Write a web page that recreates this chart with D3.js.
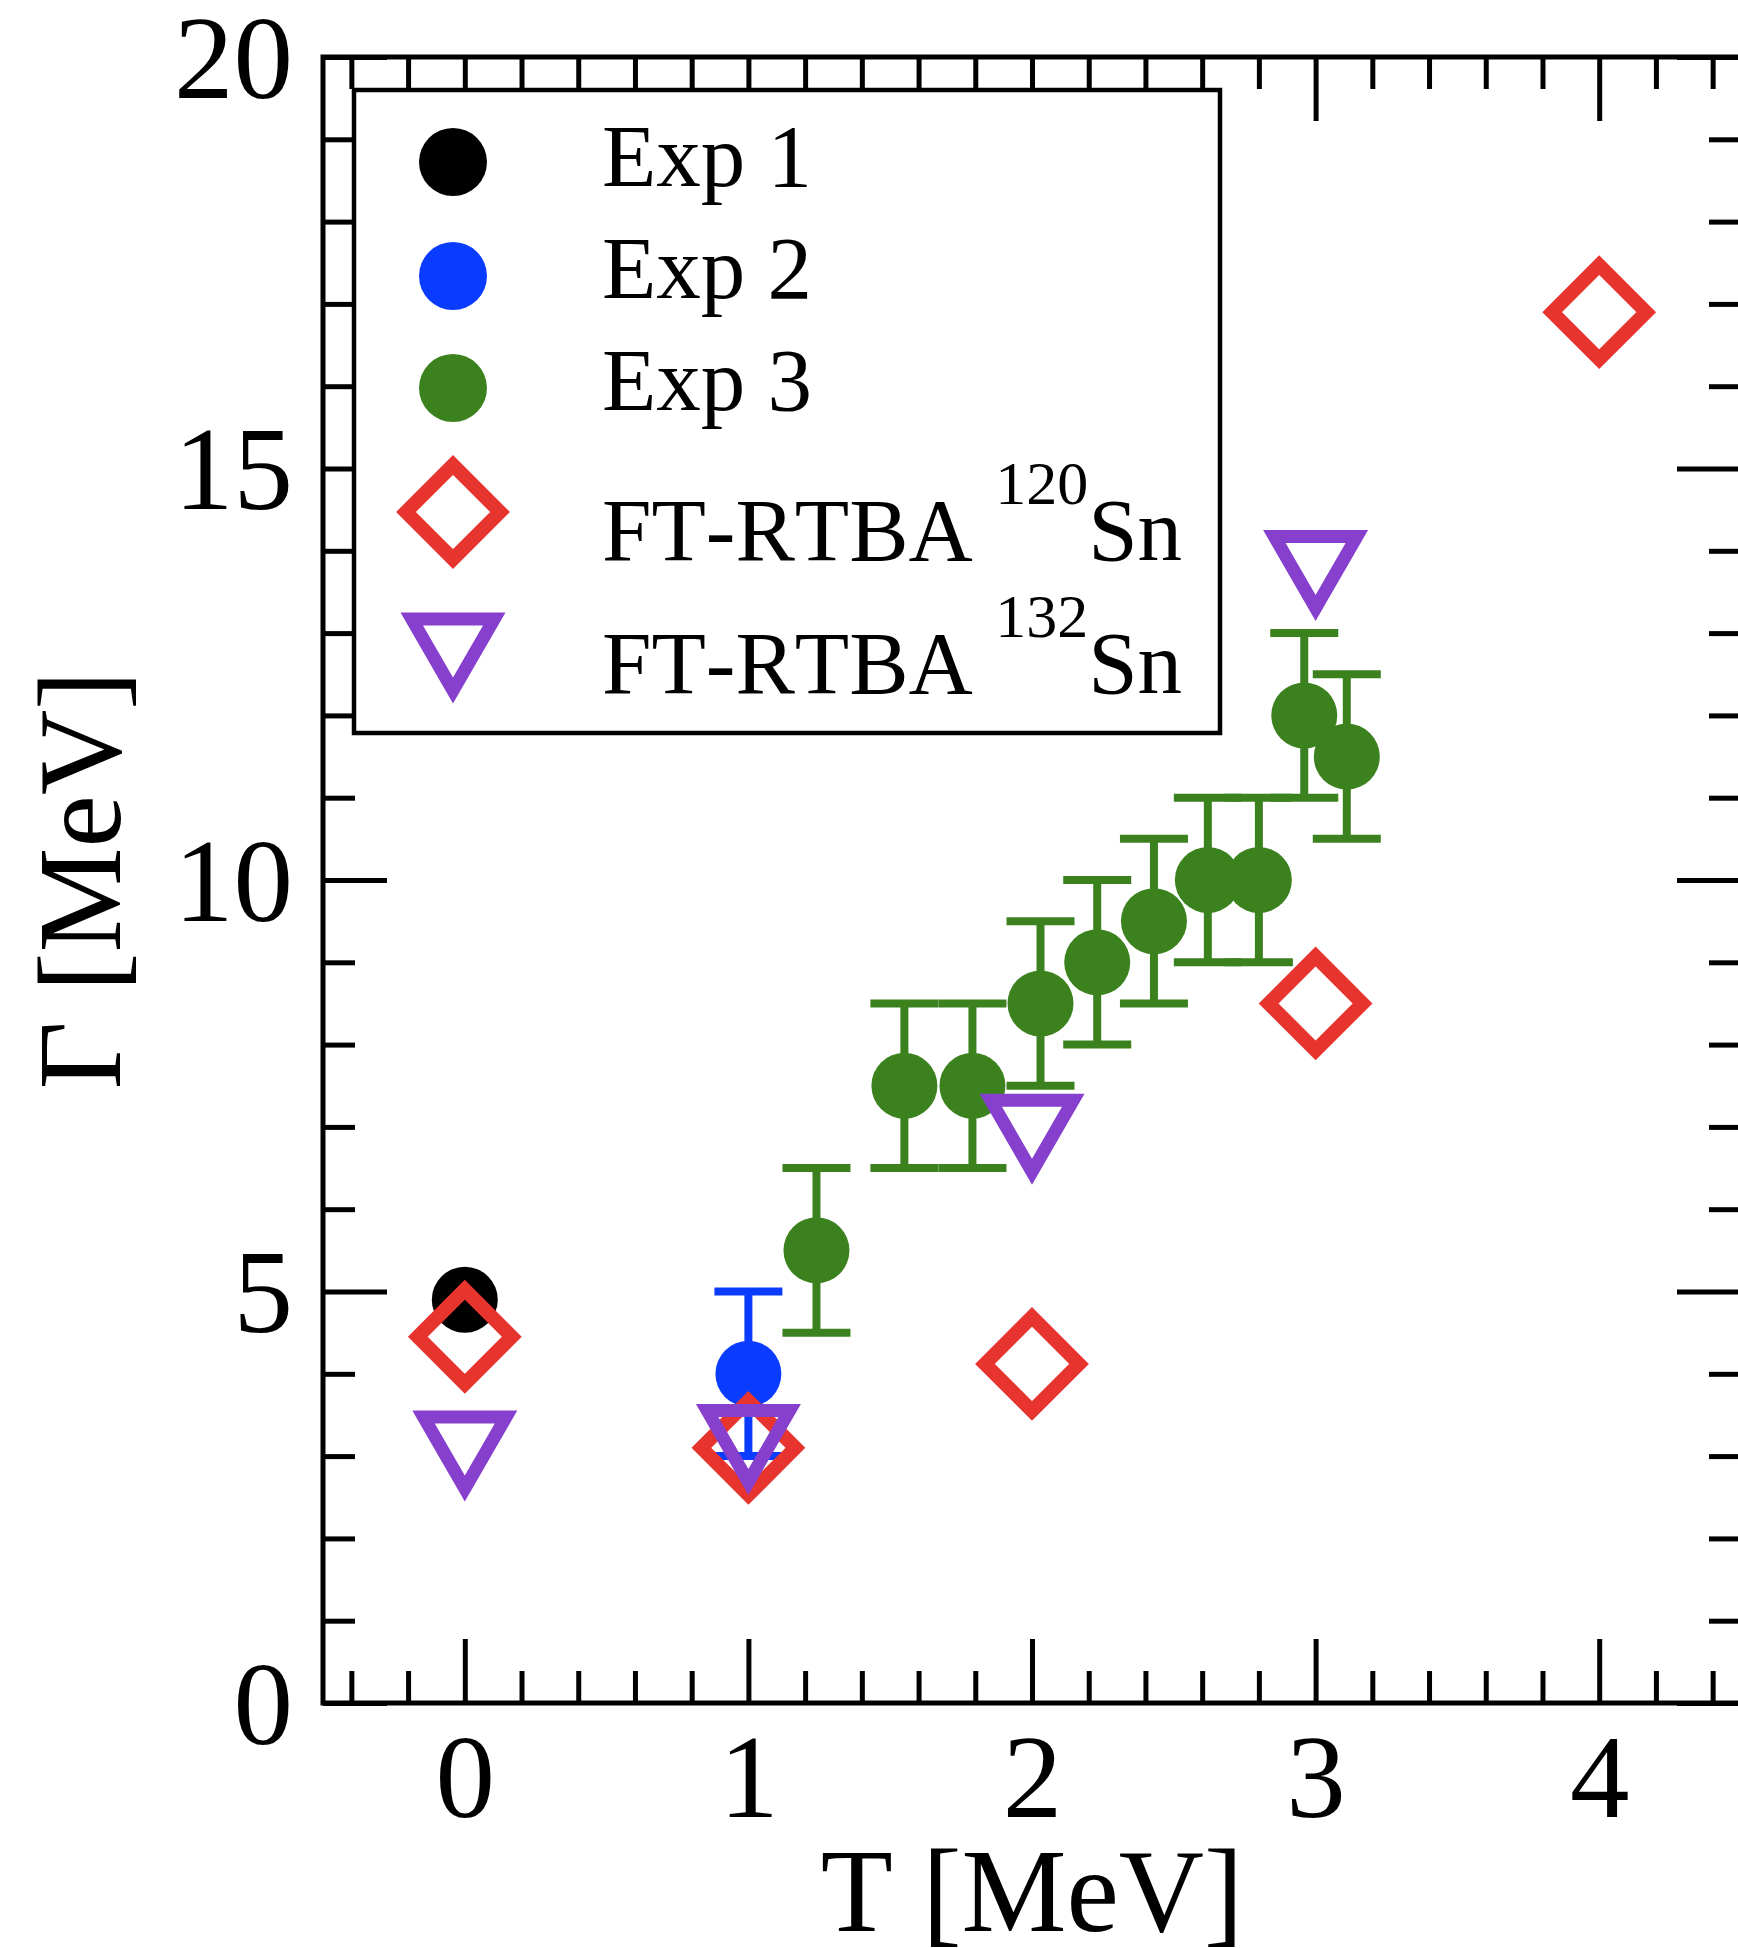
<!DOCTYPE html>
<html>
<head>
<meta charset="utf-8">
<script src="https://cdn.jsdelivr.net/npm/d3@7"></script>
<style>
  html, body { margin: 0; padding: 0; background: #fff; }
  svg { display: block; }
  svg text { font-kerning: none; font-feature-settings: "kern" 0; }
</style>
</head>
<body>
<script>
// ---------------- data ----------------
const exp1T = [0];
const exp1G = [4.9];

const exp2T = [1];
const exp2G = [4.0];
const exp2Err = [1.0];

const exp3T = [1.24, 1.55, 1.79, 2.03, 2.23, 2.43, 2.62, 2.80, 2.96, 3.11];
const exp3G = [5.5, 7.5, 7.5, 8.5, 9.0, 9.5, 10.0, 10.0, 12.0, 11.5];
const exp3Err = [1, 1, 1, 1, 1, 1, 1, 1, 1, 1];

const rtba120T = [0, 1, 2, 3, 4];
const rtba120G = [4.45, 3.1, 4.12, 8.5, 16.9];

const rtba132T = [0, 1, 2, 3];
const rtba132G = [3.0, 3.08, 6.85, 13.7];

const xMajorTicks = [0, 1, 2, 3, 4];
const xMinorTicks = [-0.4, -0.2, 0.2, 0.4, 0.6, 0.8, 1.2, 1.4, 1.6, 1.8, 2.2, 2.4, 2.6, 2.8, 3.2, 3.4, 3.6, 3.8, 4.2, 4.4];
const yMajorTicks = [0, 5, 10, 15, 20];
const yMinorTicks = [1, 2, 3, 4, 6, 7, 8, 9, 11, 12, 13, 14, 16, 17, 18, 19];

const xLabel = "T [MeV]";
const yLabel = "Γ [MeV]";

const legendNames = ["Exp 1", "Exp 2", "Exp 3", "FT-RTBA ", "FT-RTBA "];
const legendSup = ["", "", "", "120", "132"];
const legendSuffix = ["", "", "", "Sn", "Sn"];

// ---------------- styles ----------------
const W = 1738, H = 1948;
const FONT = "'Liberation Serif', 'Times New Roman', Times, serif";
const C_BLACK = "#000000";
const C_BLUE = "#0a3cff";
const C_GREEN = "#3b821f";
const C_RED = "#e8342f";
const C_PURPLE = "#8740cd";

const svg = d3.select("body").append("svg")
  .attr("width", W).attr("height", H)
  .attr("viewBox", `0 0 ${W} ${H}`);

const x = d3.scaleLinear().domain([-0.5, 4.5]).range([323, 1741]);
const y = d3.scaleLinear().domain([0, 20]).range([1703, 57]);

const AX_W = 5;
const MAJ = 64, MIN = 32;

function styleAxis(g) {
  g.select(".domain").remove();
  g.selectAll("line").attr("stroke", "#000").attr("stroke-width", AX_W);
  g.attr("font-family", FONT);
}

// minor ticks
svg.append("g").attr("transform", `translate(0,${y(0)})`)
  .call(d3.axisBottom(x).tickValues(xMinorTicks).tickSize(-MIN).tickFormat(""))
  .call(styleAxis);
svg.append("g").attr("transform", `translate(0,${y(20)})`)
  .call(d3.axisTop(x).tickValues(xMinorTicks).tickSize(-MIN).tickFormat(""))
  .call(styleAxis);
svg.append("g").attr("transform", `translate(${x(-0.5)},0)`)
  .call(d3.axisLeft(y).tickValues(yMinorTicks).tickSize(-MIN).tickFormat(""))
  .call(styleAxis);
svg.append("g").attr("transform", `translate(${x(4.5)},0)`)
  .call(d3.axisRight(y).tickValues(yMinorTicks).tickSize(-MIN).tickFormat(""))
  .call(styleAxis);

// major ticks + labels
const gxB = svg.append("g").attr("transform", `translate(0,${y(0)})`)
  .call(d3.axisBottom(x).tickValues(xMajorTicks).tickSize(-MAJ).tickPadding(0).tickFormat(d3.format("d")))
  .call(styleAxis);
gxB.selectAll("text").attr("font-size", 119).attr("fill", "#000")
  .attr("y", 114).attr("dy", null);

svg.append("g").attr("transform", `translate(0,${y(20)})`)
  .call(d3.axisTop(x).tickValues(xMajorTicks).tickSize(-MAJ).tickFormat(""))
  .call(styleAxis);

const gyL = svg.append("g").attr("transform", `translate(${x(-0.5)},0)`)
  .call(d3.axisLeft(y).tickValues(yMajorTicks).tickSize(-MAJ).tickPadding(0).tickFormat(d3.format("d")))
  .call(styleAxis);
gyL.selectAll("text").attr("font-size", 119).attr("fill", "#000")
  .attr("x", -30).attr("dy", null).attr("y", 40).attr("text-anchor", "end");

svg.append("g").attr("transform", `translate(${x(4.5)},0)`)
  .call(d3.axisRight(y).tickValues(yMajorTicks).tickSize(-MAJ).tickFormat(""))
  .call(styleAxis);

// frame
svg.append("rect")
  .attr("x", x(-0.5)).attr("y", y(20))
  .attr("width", x(4.5) - x(-0.5)).attr("height", y(0) - y(20))
  .attr("fill", "none").attr("stroke", "#000").attr("stroke-width", AX_W);

// axis titles
svg.append("text")
  .attr("x", (x(-0.5) + x(4.5)) / 2).attr("y", 1931)
  .attr("text-anchor", "middle")
  .attr("font-family", FONT).attr("font-size", 118)
  .text(xLabel);

svg.append("text")
  .attr("transform", `translate(120,${(y(0) + y(20)) / 2}) rotate(-90)`)
  .attr("text-anchor", "middle")
  .attr("font-family", FONT).attr("font-size", 118)
  .text(yLabel);

// ---------------- marks ----------------
const R = 33;
const ERR_W = 8, CAP = 34;
const diamondPath = "M0,-47L47,0L0,47L-47,0Z";
const trianglePath = "M-41.25,-39L41.25,-39L0,32.4Z";

function errorBars(T, G, E, color) {
  const g = svg.append("g").attr("stroke", color).attr("stroke-width", ERR_W).attr("fill", "none");
  T.forEach((t, i) => {
    const cx = x(t), yt = y(G[i] + E[i]), yb = y(G[i] - E[i]);
    g.append("line").attr("x1", cx).attr("x2", cx).attr("y1", yt).attr("y2", yb);
    g.append("line").attr("x1", cx - CAP).attr("x2", cx + CAP).attr("y1", yt).attr("y2", yt);
    g.append("line").attr("x1", cx - CAP).attr("x2", cx + CAP).attr("y1", yb).attr("y2", yb);
  });
}
function circles(T, G, color) {
  svg.append("g").selectAll("circle").data(T).join("circle")
    .attr("cx", d => x(d)).attr("cy", (d, i) => y(G[i])).attr("r", R).attr("fill", color);
}
function symbols(T, G, path, color, sw) {
  svg.append("g").selectAll("path").data(T).join("path")
    .attr("d", path)
    .attr("transform", (d, i) => `translate(${x(d)},${y(G[i])})`)
    .attr("fill", "none").attr("stroke", color).attr("stroke-width", sw)
    .attr("stroke-linejoin", "miter").attr("stroke-miterlimit", 10);
}

circles(exp1T, exp1G, C_BLACK);
errorBars(exp3T, exp3G, exp3Err, C_GREEN);
circles(exp3T, exp3G, C_GREEN);
circles(exp2T, exp2G, C_BLUE);
errorBars(exp2T, exp2G, exp2Err, C_BLUE);
symbols(rtba120T, rtba120G, diamondPath, C_RED, 14);
symbols(rtba132T, rtba132G, trianglePath, C_PURPLE, 13);

// ---------------- legend ----------------
const lg = svg.append("g");
lg.append("rect").attr("x", 354).attr("y", 90).attr("width", 866).attr("height", 643)
  .attr("fill", "#fff").attr("stroke", "#000").attr("stroke-width", 4.5);

const legSymX = 453, legTextX = 602;
const legSymY = [162, 276, 388, 512, 658];
const legBaseY = [186, 298, 410, 560, 693];
const legColors = [C_BLACK, C_BLUE, C_GREEN, C_RED, C_PURPLE];

legendNames.forEach((name, i) => {
  if (i < 3) {
    lg.append("circle").attr("cx", legSymX).attr("cy", legSymY[i]).attr("r", 34).attr("fill", legColors[i]);
  } else {
    lg.append("path").attr("d", i === 3 ? diamondPath : trianglePath)
      .attr("transform", `translate(${legSymX},${legSymY[i]})`)
      .attr("fill", "none").attr("stroke", legColors[i]).attr("stroke-width", i === 3 ? 14 : 13)
      .attr("stroke-linejoin", "miter").attr("stroke-miterlimit", 10);
  }
  const t = lg.append("text").attr("x", legTextX).attr("y", legBaseY[i])
    .attr("font-family", FONT).attr("font-size", 89).attr("xml:space", "preserve")
    .style("white-space", "pre");
  t.append("tspan").text(name);
  if (legendSup[i]) {
    t.append("tspan").attr("font-size", 62).attr("dy", -56).text(legendSup[i]);
    t.append("tspan").attr("dy", 56).text(legendSuffix[i]);
  }
});
</script>
</body>
</html>
